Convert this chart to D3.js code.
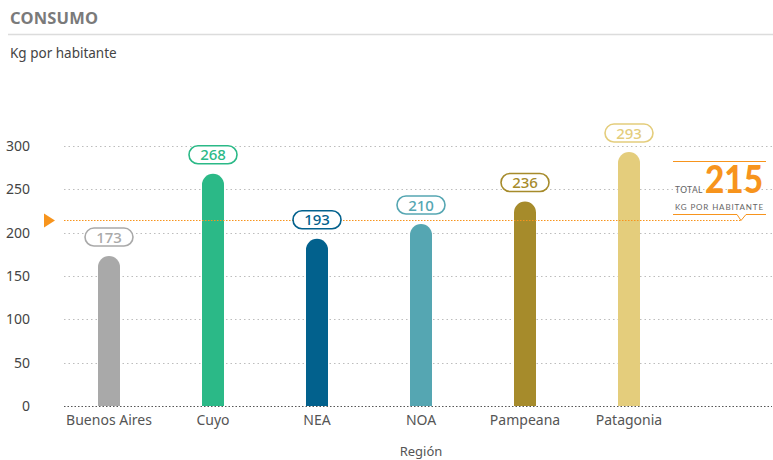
<!DOCTYPE html>
<html>
<head>
<meta charset="utf-8">
<script src="https://cdn.jsdelivr.net/npm/d3@7"></script>
<style>
  html, body { margin: 0; padding: 0; background: #fff; }
  svg { display: block; font-family: "Noto Sans", "Open Sans", sans-serif; }
</style>
</head>
<body>
<svg id="chart" width="773" height="460"></svg>
<script>
// Consumo por región (kg por habitante)
const regions = ["Buenos Aires", "Cuyo", "NEA", "NOA", "Pampeana", "Patagonia"];
const values = [173, 268, 193, 210, 236, 293];
const colors = ["#a9a9a9", "#2bb987", "#02618d", "#55a6b2", "#a68b2b", "#e4cd7c"];
const yTicks = [0, 50, 100, 150, 200, 250, 300];
const totalValue = 215;

const svg = d3.select("#chart");
const orange = "#f7941d";

// Header
svg.append("text").attr("x", 10).attr("y", 24)
  .attr("font-size", 16.5).attr("font-weight", 700).attr("fill", "#7a7a7a")
  .attr("letter-spacing", 0.2)
  .text("CONSUMO");
svg.append("line").attr("x1", 8).attr("x2", 773).attr("y1", 34.5).attr("y2", 34.5)
  .attr("stroke", "#dcdcdc").attr("stroke-width", 1.5);
svg.append("text").attr("x", 10).attr("y", 58)
  .attr("font-size", 13.5).attr("fill", "#444")
  .text("Kg por habitante");

// Scales
const y = d3.scaleLinear().domain([0, 300]).range([406, 146]);
const x = d3.scaleBand().domain(regions).range([57, 681]).padding(0);
const barW = 22;
const gridX1 = 64, gridX2 = 772;

// Gridlines
svg.append("g").selectAll("line").data(yTicks.filter(d => d > 0)).join("line")
  .attr("x1", gridX1).attr("x2", gridX2)
  .attr("y1", d => Math.round(y(d)) + 0.5).attr("y2", d => Math.round(y(d)) + 0.5)
  .attr("stroke", "#bdbdbd").attr("stroke-width", 1).attr("stroke-dasharray", "1.5,3");

// Y axis labels
const yAxis = d3.axisLeft(y).tickValues(yTicks).tickSize(0).tickPadding(0);
const gy = svg.append("g").attr("transform", "translate(30,0)").call(yAxis);
gy.select(".domain").remove();
gy.selectAll("text").attr("font-size", 14).attr("fill", "#444")
  .attr("font-family", "Noto Sans, Open Sans, sans-serif");

// Bars with rounded tops
const bars = svg.append("g");
regions.forEach((r, i) => {
  const cx = x(r) + x.bandwidth() / 2;
  const top = y(values[i]);
  const bottom = y(0);
  const rad = barW / 2;
  const p = d3.path();
  p.moveTo(cx - rad, bottom);
  p.lineTo(cx - rad, top + rad);
  p.arc(cx, top + rad, rad, Math.PI, 0);
  p.lineTo(cx + rad, bottom);
  p.closePath();
  bars.append("path").attr("d", p.toString()).attr("fill", colors[i]);
});

// Baseline
svg.append("line").attr("x1", gridX1).attr("x2", gridX2)
  .attr("y1", 406.5).attr("y2", 406.5)
  .attr("stroke", "#555").attr("stroke-width", 1.2).attr("stroke-dasharray", "1.5,2");

// Average reference line
const yT = Math.round(y(totalValue)) + 0.5;
svg.append("line").attr("x1", gridX1).attr("x2", 741)
  .attr("y1", yT).attr("y2", yT)
  .attr("stroke", orange).attr("stroke-width", 1.2).attr("stroke-dasharray", "1.5,1.5");
svg.append("path")
  .attr("d", `M44,${yT - 7}L55,${yT}L44,${yT + 7}Z`)
  .attr("fill", orange);

// Value pills
const pills = svg.append("g");
regions.forEach((r, i) => {
  const cx = x(r) + x.bandwidth() / 2;
  const cy = y(values[i]) - 19;
  pills.append("rect")
    .attr("x", cx - 24).attr("y", cy - 9)
    .attr("width", 48).attr("height", 18).attr("rx", 9)
    .attr("fill", "#fff").attr("stroke", colors[i]).attr("stroke-width", 1.6);
  pills.append("text")
    .attr("x", cx).attr("y", cy + 5.5)
    .attr("text-anchor", "middle")
    .attr("font-size", 15).attr("font-weight", 500)
    .attr("fill", colors[i])
    .text(values[i]);
});

// X axis labels
const xAxis = d3.axisBottom(x).tickSize(0).tickPadding(0);
const gx = svg.append("g").attr("transform", "translate(0,412)").call(xAxis);
gx.select(".domain").remove();
gx.selectAll("text").attr("font-size", 14).attr("fill", "#555")
  .attr("dy", "0.95em")
  .attr("font-family", "Noto Sans, Open Sans, sans-serif");

svg.append("text").attr("x", 421).attr("y", 456)
  .attr("text-anchor", "middle").attr("font-size", 13).attr("fill", "#555")
  .text("Región");

// Total callout
const box = svg.append("g").attr("font-family", "Lato, sans-serif");
box.append("line").attr("x1", 673).attr("x2", 766).attr("y1", 161.5).attr("y2", 161.5)
  .attr("stroke", orange).attr("stroke-width", 1);
box.append("path")
  .attr("d", `M673,214.5H737L741,${yT}L746,214.5H766`)
  .attr("fill", "none").attr("stroke", orange).attr("stroke-width", 1);
box.append("text").attr("x", 675).attr("y", 193)
  .attr("font-size", 8.5).attr("fill", "#666").attr("letter-spacing", 0.4)
  .text("TOTAL");
box.append("text").attr("x", 705).attr("y", 193)
  .attr("font-size", 37).attr("font-weight", 900).attr("fill", orange)
  .attr("textLength", 58).attr("lengthAdjust", "spacingAndGlyphs")
  .text(totalValue);
box.append("text").attr("x", 675).attr("y", 209.5)
  .attr("font-size", 8).attr("fill", "#666")
  .attr("textLength", 88).attr("lengthAdjust", "spacing")
  .text("KG POR HABITANTE");
</script>
</body>
</html>
